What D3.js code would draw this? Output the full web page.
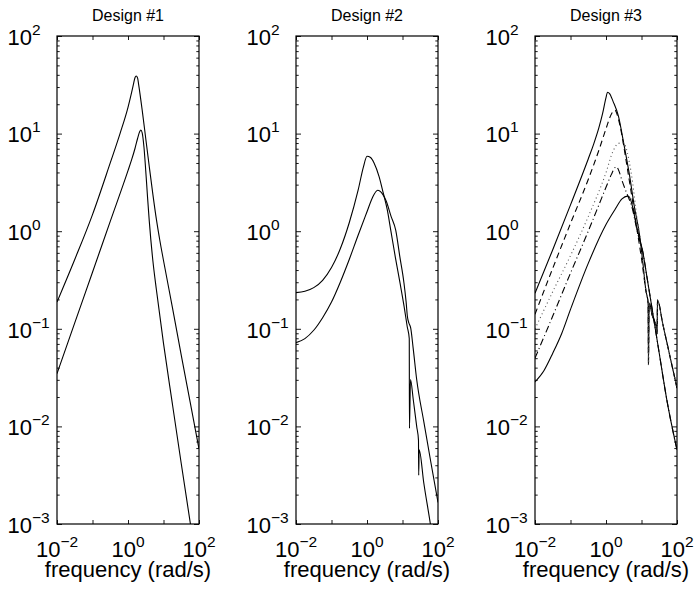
<!DOCTYPE html>
<html>
<head>
<meta charset="utf-8">
<script src="https://cdn.jsdelivr.net/npm/d3@7"></script>
<style>
  body { margin: 0; background: #fff; }
  text { font-family: "Liberation Sans", Arial, Helvetica, sans-serif; fill: #000; }
</style>
</head>
<body>
<div id="chart"></div>
<script>
// panel titles and tick exponents
var titles = ["Design #1", "Design #2", "Design #3"];
var xTickExp = [-2, -1, 0, 1, 2];
var xLabelExp = [-2, 0, 2];
var yTickExp = [-3, -2, -1, 0, 1, 2];

// ---- Design #1 ----
var w1a = [0.01, 0.0316, 0.1, 0.316, 0.596, 1, 1.26, 1.41, 1.58, 1.70, 1.86, 2.0, 2.51, 3.16, 3.98, 5.01, 6.31, 7.94, 10, 17.8, 31.6, 56.2, 100];
var m1a = [0.188, 0.513, 1.48, 5.01, 10.0, 18.6, 26.3, 31.6, 37.6, 38.9, 37.2, 31.6, 17.4, 8.91, 4.57, 2.40, 1.32, 0.794, 0.501, 0.166, 0.0537, 0.0178, 0.00589];
var w1b = [0.01, 0.0316, 0.1, 0.316, 1, 1.26, 1.58, 1.86, 2.14, 2.29, 2.51, 2.82, 3.16, 3.55, 3.98, 5.01, 6.31, 10, 17.8, 31.6, 56.2, 100];
var m1b = [0.0347, 0.115, 0.380, 1.26, 4.17, 5.37, 7.08, 8.91, 10.5, 10.9, 10.2, 7.24, 4.17, 2.24, 1.26, 0.501, 0.251, 0.0708, 0.0170, 0.00417, 0.00105, 0.000263];

// ---- Design #2 ----
var w2a = [0.01, 0.0178, 0.0316, 0.0562, 0.1, 0.178, 0.316, 0.562, 0.794, 1, 1.26, 1.58, 2.19, 2.88, 3.72, 4.68, 6.31, 8.51, 11.2, 13.6, 15.5, 15.7, 16.8, 20.0, 25.1, 28.2, 28.6, 29.5, 39.8, 61.0, 100];
var m2a = [0.235, 0.243, 0.264, 0.314, 0.424, 0.664, 1.22, 2.63, 4.57, 5.87, 5.69, 5.01, 3.63, 2.45, 1.66, 1.02, 0.537, 0.295, 0.166, 0.105, 0.0794, 0.00955, 0.0302, 0.0191, 0.01, 0.00724, 0.00316, 0.00575, 0.00263, 0.001, 0.000282];
var w2b = [0.01, 0.0178, 0.0316, 0.0562, 0.1, 0.178, 0.316, 0.562, 1, 1.41, 2.0, 2.75, 3.47, 4.79, 6.46, 8.32, 11.0, 12.6, 13.8, 15.1, 17.0, 20.0, 25.1, 39.8, 63.1, 100];
var m2b = [0.0721, 0.0794, 0.0966, 0.130, 0.188, 0.302, 0.513, 0.910, 1.58, 2.19, 2.63, 2.40, 2.04, 1.41, 1.02, 0.562, 0.295, 0.191, 0.132, 0.115, 0.102, 0.0631, 0.0302, 0.0112, 0.00427, 0.00166];

// ---- Design #3 ----
var w3a = [0.01, 0.0316, 0.1, 0.316, 0.447, 0.631, 0.794, 1, 1.10, 1.26, 1.58, 2.24, 3.16, 4.47, 6.31, 8.91, 11.2];
var m3a = [0.231, 0.646, 1.86, 5.50, 7.76, 11.5, 15.8, 23.4, 26.5, 25.7, 21.4, 15.1, 7.94, 3.98, 1.78, 0.891, 0.437];
var w3b = [0.01, 0.0316, 0.1, 0.316, 0.631, 1, 1.41, 1.78, 2.24, 2.82, 3.55, 5.01, 7.08, 10];
var m3b = [0.141, 0.417, 1.20, 3.39, 6.76, 11.2, 15.8, 17.4, 14.1, 9.55, 5.75, 2.63, 1.17, 0.525];
var w3c = [0.01, 0.0316, 0.1, 0.316, 1, 1.58, 2.24, 3.02, 3.55, 4.47, 5.62, 7.08, 8.91, 11.2];
var m3c = [0.1, 0.24, 0.562, 1.41, 3.98, 6.61, 7.94, 8.05, 7.41, 5.25, 3.16, 1.58, 0.891, 0.447];
var w3d = [0.01, 0.0316, 0.1, 0.316, 0.631, 1, 1.41, 1.78, 2.0, 2.24, 2.82, 3.55, 4.47, 5.62, 7.08, 8.91];
var m3d = [0.0501, 0.135, 0.372, 1.0, 1.86, 2.82, 3.80, 4.47, 4.57, 4.27, 3.31, 2.63, 2.14, 1.66, 1.12, 0.794];
var w3e = [0.01, 0.0178, 0.0316, 0.0562, 0.1, 0.316, 1, 1.78, 2.82, 3.98, 4.47, 5.62, 7.08, 8.91];
var m3e = [0.0285, 0.0372, 0.0562, 0.0891, 0.158, 0.468, 1.17, 1.66, 2.14, 2.29, 2.26, 1.78, 1.17, 0.832];
// high frequency tails shared in design #3
var wTailP = [13.2, 15.4, 15.7, 16.4, 20.0, 26.9, 27.5, 28.2, 39.8, 63.1, 100];
var mTailP = [0.251, 0.182, 0.0427, 0.184, 0.138, 0.1, 0.0891, 0.197, 0.112, 0.0525, 0.0247];
var wTailQ = [10.7, 14.1, 20.0, 31.6, 51.8, 100];
var mTailQ = [0.631, 0.347, 0.158, 0.0562, 0.0186, 0.00575];

// zip frequency / magnitude arrays into points
function pts(w, m) {
  return w.map(function(d, i) { return [d, m[i]]; });
}

var panels = [
  [ {d: pts(w1a, m1a), dash: null}, {d: pts(w1b, m1b), dash: null} ],
  [ {d: pts(w2a, m2a), dash: null}, {d: pts(w2b, m2b), dash: null} ],
  [ {d: pts(w3a.concat(wTailP), m3a.concat(mTailP)), dash: null},
    {d: pts(w3b.concat(wTailP), m3b.concat(mTailP)), dash: "6,4"},
    {d: pts(w3c.concat(wTailP), m3c.concat(mTailP)), dash: "1,3", color: "#555"},
    {d: pts(w3d.concat(wTailQ), m3d.concat(mTailQ)), dash: "7,3,1,3"},
    {d: pts(w3e.concat(wTailQ), m3e.concat(mTailQ)), dash: null} ]
];

// layout
var panelLeft = [57, 296, 535],
    panelTop = 36,
    panelW = 142,
    panelH = 488;

var svg = d3.select("#chart").append("svg")
    .attr("width", 694)
    .attr("height", 592)
    .style("background", "#fff");

// writes 10^exp into a text element
function powLabel(t, e) {
  t.append("tspan").style("font-size", "22px").text("10");
  t.append("tspan").style("font-size", "15.5px").attr("dy", -10)
    .text(e < 0 ? "\u2212" + (-e) : String(e));
}

panels.forEach(function(curves, i) {
  var x = d3.scaleLog().domain([1e-2, 1e2]).range([0, panelW]);
  var y = d3.scaleLog().domain([1e-3, 1e2]).range([panelH, 0]);

  var g = svg.append("g")
      .attr("transform", "translate(" + panelLeft[i] + "," + panelTop + ")");

  g.append("clipPath").attr("id", "clip" + i)
    .append("rect").attr("width", panelW).attr("height", panelH);

  // minor / major y ticks on both sides (inward)
  var minor = [];
  yTickExp.forEach(function(e) {
    if (e < 2) for (var k = 2; k <= 9; k++) minor.push(k * Math.pow(10, e));
  });
  var major = yTickExp.map(function(e) { return Math.pow(10, e); });
  var xMajor = xTickExp.map(function(e) { return Math.pow(10, e); });

  function tickAxis(axis) {
    var a = g.append("g").call(axis);
    a.select(".domain").remove();
    a.selectAll("line").attr("stroke", "#000").attr("stroke-width", 0.9);
    return a;
  }
  tickAxis(d3.axisLeft(y).tickValues(minor).tickSize(-2.7).tickFormat(""));
  tickAxis(d3.axisLeft(y).tickValues(major).tickSize(-5).tickFormat(""));
  tickAxis(d3.axisRight(y).tickValues(minor).tickSize(-2.7).tickFormat(""))
    .attr("transform", "translate(" + panelW + ",0)");
  tickAxis(d3.axisRight(y).tickValues(major).tickSize(-5).tickFormat(""))
    .attr("transform", "translate(" + panelW + ",0)");
  tickAxis(d3.axisBottom(x).tickValues(xMajor).tickSize(-4).tickFormat(""))
    .attr("transform", "translate(0," + panelH + ")");
  tickAxis(d3.axisTop(x).tickValues(xMajor).tickSize(-4).tickFormat(""));

  // curves
  var line = d3.line()
      .x(function(d) { return x(d[0]); })
      .y(function(d) { return y(d[1]); })
      .curve(d3.curveMonotoneX);

  g.append("g").attr("clip-path", "url(#clip" + i + ")")
    .selectAll("path")
    .data(curves)
    .enter().append("path")
      .attr("d", function(c) { return line(c.d); })
      .attr("fill", "none")
      .attr("stroke", function(c) { return c.color || "#000"; })
      .attr("stroke-width", 1.1)
      .attr("stroke-dasharray", function(c) { return c.dash; });

  // box
  g.append("rect")
    .attr("width", panelW).attr("height", panelH)
    .attr("fill", "none").attr("stroke", "#000").attr("stroke-width", 1.2);

  // y tick labels
  yTickExp.forEach(function(e) {
    var t = g.append("text")
      .attr("x", -49.5)
      .attr("y", y(Math.pow(10, e)) + 8.8)
      .attr("text-anchor", "start");
    powLabel(t, e);
  });

  // x tick labels
  xLabelExp.forEach(function(e) {
    var t = g.append("text")
      .attr("x", x(Math.pow(10, e)))
      .attr("y", panelH + 32.5)
      .attr("text-anchor", "middle");
    powLabel(t, e);
  });

  // title and x label
  g.append("text")
    .attr("x", panelW / 2).attr("y", -15.5)
    .attr("text-anchor", "middle")
    .style("font-size", "16px")
    .text(titles[i]);

  g.append("text")
    .attr("x", panelW / 2).attr("y", 541)
    .attr("text-anchor", "middle")
    .style("font-size", "22px")
    .text("frequency (rad/s)");
});
</script>
</body>
</html>
